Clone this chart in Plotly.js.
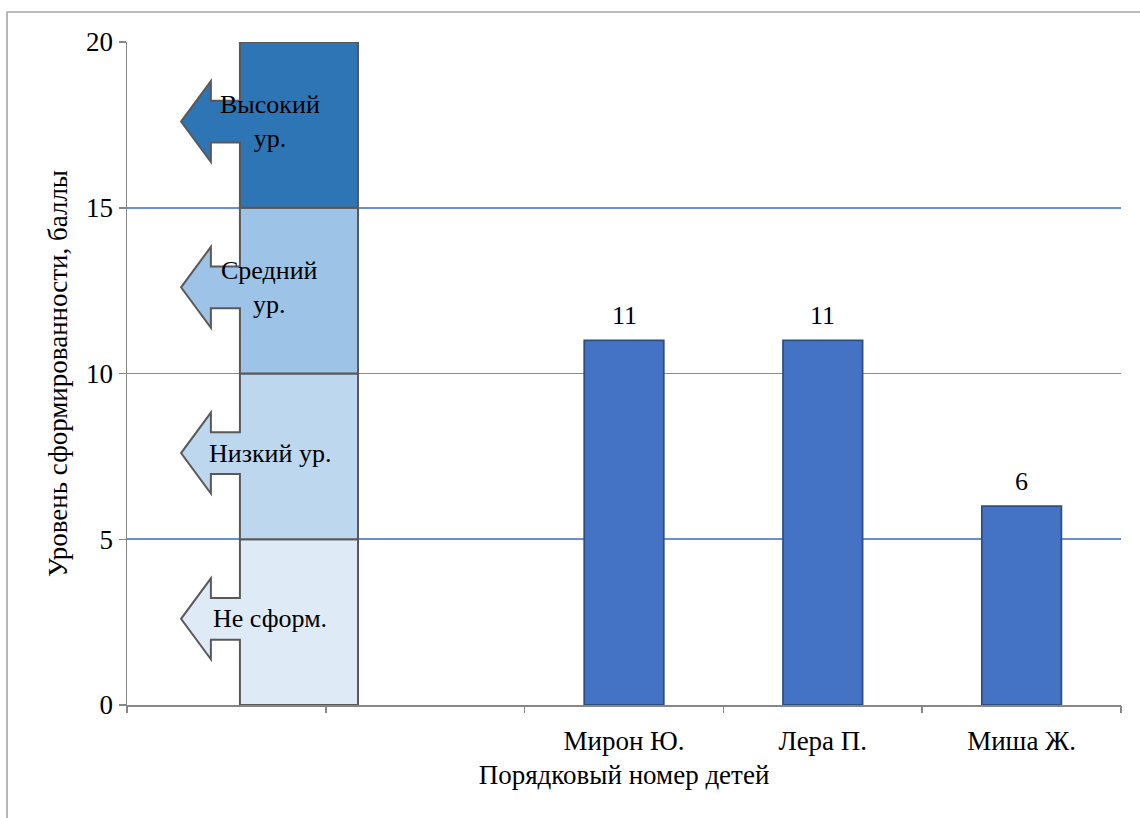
<!DOCTYPE html>
<html>
<head>
<meta charset="utf-8">
<script src="https://cdn.plot.ly/plotly-3.0.1.min.js"></script>
<style>
  html, body { margin: 0; padding: 0; background: #ffffff; font-family: 'Times New Roman', 'Liberation Serif', serif; }
  #chart { width: 1140px; height: 818px; }
  #chart svg text { font-family: 'Times New Roman', 'Liberation Serif', serif !important; }
</style>
</head>
<body>
<div id="chart"></div>
<script>
// Category slots on the x axis (the first two are left empty for the level scale)
const slots = ['', '', 'Мирон Ю.', 'Лера П.', 'Миша Ж.'];
// Children and their scores
const children = ['Мирон Ю.', 'Лера П.', 'Миша Ж.'];
const scores = [11, 11, 6];
// Level scale bands (score ranges) and their captions
const levelLabels = ['Не сформ.', 'Низкий ур.', 'Средний<br>ур.', 'Высокий<br>ур.'];
const levelFrom = [0, 5, 10, 15];
const levelTo = [5, 10, 15, 20];
// Y axis ticks
const yTicks = [0, 5, 10, 15, 20];

// Styling
const FONT = 'Times New Roman';
const FS = 26;      // callouts and value labels
const FS_AX = 27;   // axis tick labels and titles
const levelColors = ['#DEEBF7', '#BDD7EE', '#9DC3E6', '#2E75B6'];
const barColor = '#4472C4';
const barLine = '#2F4F80';
const axisGray = '#868686';
const gridBlue = '#6A8FCF';

// Callout geometry in x-axis units (category slot 0 spans -0.5..0.5)
const boxLeft = 0.068, boxRight = 0.662, headBase = -0.078, tipX = -0.228;
const arrowMidFrac = 0.52, headHalf = 1.22, shaftHalf = 0.63;

const xs = children.map(n => slots.indexOf(n));

const bars = {
  type: 'bar',
  x: xs,
  y: scores,
  width: 0.4,
  marker: { color: barColor, line: { color: barLine, width: 1.8 } },
  hoverinfo: 'skip',
  showlegend: false
};

// Invisible trace that activates the overlay axis carrying boundary ticks
const tickCarrier = {
  type: 'scatter', mode: 'markers',
  x: [], y: [], xaxis: 'x2', yaxis: 'y',
  showlegend: false, hoverinfo: 'skip'
};

const shapes = [];
const annotations = [];

levelLabels.forEach((lab, i) => {
  const lo = levelFrom[i], hi = levelTo[i];
  const mid = lo + (hi - lo) * arrowMidFrac;
  const p = [
    [boxLeft, hi], [boxRight, hi], [boxRight, lo], [boxLeft, lo],
    [boxLeft, mid - shaftHalf], [headBase, mid - shaftHalf], [headBase, mid - headHalf],
    [tipX, mid],
    [headBase, mid + headHalf], [headBase, mid + shaftHalf], [boxLeft, mid + shaftHalf]
  ];
  const path = 'M ' + p.map(q => q[0] + ',' + q[1]).join(' L ') + ' Z';
  shapes.push({
    type: 'path', xref: 'x', yref: 'y', path: path,
    fillcolor: levelColors[i],
    line: { color: '#595959', width: 2 },
    layer: 'above'
  });
  annotations.push({
    x: (tipX + boxRight) / 2, y: mid, xref: 'x', yref: 'y',
    text: lab, showarrow: false,
    font: { family: FONT, size: FS, color: '#000000' },
    xanchor: 'center', yanchor: 'middle'
  });
});

// Value labels above the bars
xs.forEach((x, i) => {
  annotations.push({
    x: x, y: scores[i], xref: 'x', yref: 'y',
    text: String(scores[i]), showarrow: false,
    yanchor: 'bottom', yshift: 8,
    font: { family: FONT, size: FS, color: '#000000' }
  });
});

// Chart area frame
shapes.push({
  type: 'rect', xref: 'paper', yref: 'paper',
  x0: -0.1207, x1: 1.05, y0: -0.2, y1: 1.0452,
  line: { color: '#A6A6A6', width: 1.6 }, fillcolor: 'rgba(0,0,0,0)',
  layer: 'below'
});

const boundaries = slots.map((_, i) => i - 0.5).concat([slots.length - 0.5]);

const layout = {
  width: 1140, height: 818,
  margin: { l: 127, r: 19, t: 42, b: 113 },
  paper_bgcolor: '#ffffff', plot_bgcolor: '#ffffff',
  font: { family: FONT, size: FS, color: '#000000' },
  showlegend: false,
  xaxis: {
    range: [-0.5, slots.length - 0.5],
    tickvals: xs, ticktext: children,
    ticks: 'outside', ticklen: 11, tickcolor: 'rgba(0,0,0,0)',
    showgrid: false, zeroline: false,
    showline: true, linecolor: axisGray, linewidth: 1.5,
    tickfont: { family: FONT, size: FS_AX, color: '#000000' },
    title: { text: 'Порядковый номер детей', standoff: 10,
             font: { family: FONT, size: FS_AX, color: '#000000' } },
    fixedrange: true
  },
  xaxis2: {
    overlaying: 'x', anchor: 'y', side: 'bottom',
    range: [-0.5, slots.length - 0.5],
    tickvals: boundaries, showticklabels: false,
    ticks: 'outside', ticklen: 7, tickcolor: axisGray, tickwidth: 1.5,
    showgrid: false, zeroline: false, showline: false, fixedrange: true
  },
  yaxis: {
    range: [0, 20],
    tickvals: yTicks,
    ticks: 'outside', ticklen: 7, tickcolor: axisGray, tickwidth: 1.5,
    showgrid: true, gridcolor: gridBlue, gridwidth: 1.8,
    zeroline: false,
    showline: true, linecolor: axisGray, linewidth: 1.5,
    tickfont: { family: FONT, size: FS_AX, color: '#000000' },
    title: { text: 'Уровень сформированности, баллы', standoff: 10,
             font: { family: FONT, size: FS_AX, color: '#000000' } },
    fixedrange: true
  },
  shapes: shapes,
  annotations: annotations
};

Plotly.newPlot('chart', [bars, tickCarrier], layout, { displayModeBar: false, staticPlot: true });
</script>
</body>
</html>
